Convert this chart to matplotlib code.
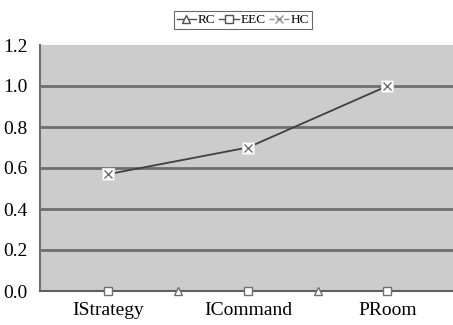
import numpy as np
import matplotlib
matplotlib.use("Agg")
import matplotlib.pyplot as plt

plt.rcParams['font.family'] = ['Liberation Serif', 'DejaVu Serif']

categories = ["IStrategy", "ICommand", "PRoom"]
hc_values = [0.57, 0.70, 1.0]
eec_values = [0.0, 0.0, 0.0]
rc_values = [0.0, 0.0]  # RC sits between the categories
yticks = [0.0, 0.2, 0.4, 0.6, 0.8, 1.0, 1.2]

x = np.arange(len(categories))
rc_x = np.arange(len(rc_values)) + 0.5

fig = plt.figure(figsize=(4.53, 3.25), dpi=100)
ax = fig.add_axes([40 / 453, 34 / 325, 413 / 453, 246 / 325])
ax.set_facecolor("#cccccc")

for y in yticks[1:-1]:
    ax.axhline(y, color="#6e6e6e", lw=2.0, zorder=1)

# HC: line with white square behind the x marker
ax.plot(x, hc_values, color="#404040", lw=1.3, zorder=3)
ax.plot(x, hc_values, ls="none", marker="s", ms=9, mfc="white",
        mec="#e0e0e0", mew=0.8, zorder=4)
ax.plot(x, hc_values, ls="none", marker="x", ms=6, color="#707070",
        mew=1.0, zorder=5)

ax.plot(x, eec_values, ls="none", marker="s", ms=6, mfc="white",
        mec="#707070", mew=1.0, zorder=5, clip_on=False)
ax.plot(rc_x, rc_values, ls="none", marker="^", ms=6, mfc="white",
        mec="#707070", mew=1.0, zorder=5, clip_on=False)

# legend handles
h_rc, = ax.plot([], [], color="#505050", lw=1, marker="^", ms=6,
                mfc="white", mec="#505050", label="RC")
h_eec, = ax.plot([], [], color="#505050", lw=1, marker="s", ms=6,
                 mfc="white", mec="#505050", label="EEC")
h_hc, = ax.plot([], [], color="#909090", lw=1, ls="--", marker="x", ms=6,
                mec="#909090", label="HC")
leg = fig.legend(handles=[h_rc, h_eec, h_hc], loc="upper center",
                 bbox_to_anchor=(0.536, 0.985), ncol=3, fontsize=9.5,
                 frameon=True, fancybox=False, handlelength=1.5,
                 handletextpad=0.1, columnspacing=0.3, borderpad=0.2)
leg.get_frame().set_edgecolor("#444444")
leg.get_frame().set_linewidth(0.8)

ax.set_xlim(-0.49, 2.47)
ax.set_ylim(0, 1.2)
ax.set_yticks(yticks)
ax.set_yticklabels([f"{v:.1f}" for v in yticks])
ax.set_xticks(x)
ax.set_xticklabels(categories)
ax.tick_params(axis="both", length=0, labelsize=14)
ax.tick_params(axis="y", pad=9)
ax.tick_params(axis="x", pad=8)

for s in ["top", "right"]:
    ax.spines[s].set_visible(False)
ax.spines["left"].set_color("#707070")
ax.spines["left"].set_linewidth(1.5)
ax.spines["bottom"].set_color("#606060")
ax.spines["bottom"].set_linewidth(1.5)

fig.savefig("out.png", dpi=100)
